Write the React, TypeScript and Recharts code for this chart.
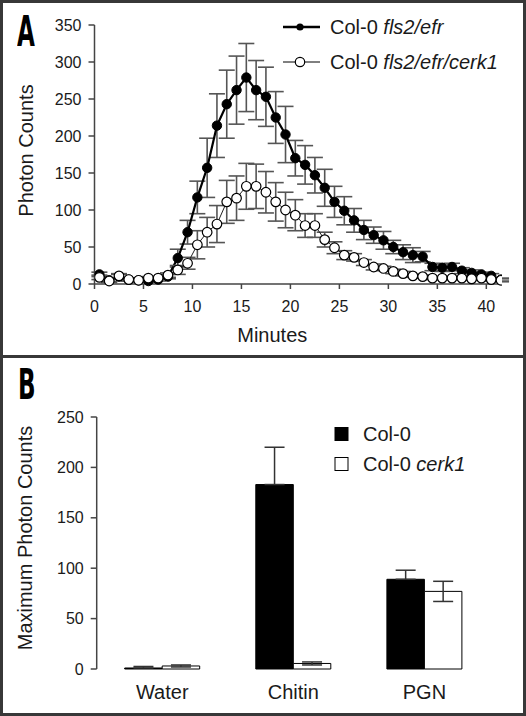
import React from "react";
import { LineChart, Line, XAxis, YAxis, ErrorBar, BarChart, Bar, Legend } from "recharts";

// Panel A: luminescence time course
const minutes = [
  0.5, 1.5, 2.5, 3.5, 4.5, 5.5, 6.5, 7.5, 8.5, 9.5, 10.5, 11.5, 12.5, 13.5,
  14.5, 15.5, 16.5, 17.5, 18.5, 19.5, 20.5, 21.5, 22.5, 23.5, 24.5, 25.5, 26.5,
  27.5, 28.5, 29.5, 30.5, 31.5, 32.5, 33.5, 34.5, 35.5, 36.5, 37.5, 38.5, 39.5,
  40.5, 41.5,
];
const fls2efr = [
  13, 5, 10, 6, 5, 4, 6, 10, 35, 70, 117, 157, 214, 243, 262, 279, 262, 253,
  225, 202, 170, 161, 147, 130, 111, 99, 86, 73, 66, 59, 50, 43, 39, 37, 23, 22,
  23, 18, 15, 13, 11, 6,
];
const fls2efrErr = [
  3, 2, 3, 2, 2, 2, 2, 3, 12, 16, 22, 40, 43, 46, 46, 46, 40, 40, 35, 38, 24,
  26, 24, 25, 21, 19, 16, 13, 11, 12, 9, 10, 10, 7, 5, 5, 5, 4, 4, 3, 3, 2,
];
const fls2efrCerk1 = [
  9, 4, 11, 6, 5, 8, 8, 12, 19, 28, 53, 70, 81, 111, 116, 132, 132, 124, 111,
  100, 93, 79, 79, 60, 49, 39, 36, 29, 23, 21, 17, 14, 11, 10, 8, 8, 8, 8, 7, 8,
  6, 5,
];
const fls2efrCerk1Err = [
  3, 2, 3, 2, 2, 2, 2, 3, 6, 8, 19, 20, 25, 29, 30, 31, 30, 28, 26, 24, 21, 16,
  16, 10, 8, 6, 5, 4, 4, 3, 3, 3, 2, 2, 2, 2, 2, 2, 2, 2, 2, 2,
];
const minuteTicks = [0, 5, 10, 15, 20, 25, 30, 35, 40];
const countTicks = [0, 50, 100, 150, 200, 250, 300, 350];

// Panel B: maximum photon counts per elicitor
const treatments = ["Water", "Chitin", "PGN"];
const col0Max = [1, 183, 89];
const col0MaxErr = [1.5, 37, 9];
const cerk1Max = [3, 5.5, 77];
const cerk1MaxErr = [1, 1.5, 10];
const maxTicks = [0, 50, 100, 150, 200, 250];

const curveRows = minutes.map((t, i) => ({
  t,
  efr: fls2efr[i],
  efrErr: fls2efrErr[i],
  cerk: fls2efrCerk1[i],
  cerkErr: fls2efrCerk1Err[i],
}));

// the black bars only show the upper half of their error bar
const barRows = treatments.map((name, i) => ({
  name,
  col0: col0Max[i],
  col0Err: [0, col0MaxErr[i]],
  cerk1: cerk1Max[i],
  cerk1Err: cerk1MaxErr[i],
}));

const FONT = '"Liberation Sans", Arial, Helvetica, sans-serif';
const AXIS = "#444";
const TXT = "#1a1a1a";
const ERR = "#555";

const tickStyle = { fontSize: 16, fill: TXT, fontFamily: FONT };
const titleStyle = { fontSize: 20, fill: TXT, fontFamily: FONT, textAnchor: "middle" as const };

function CurveLegend() {
  return (
    <svg width={256} height={80} style={{ display: "block" }}>
      <g fontFamily={FONT} fontSize={20} fill={TXT}>
        <line x1={13} x2={50} y1={22} y2={22} stroke="#000" strokeWidth={2.5} />
        <circle cx={30} cy={22} r={3.6} fill="#000" />
        <text x={60} y={29}>
          Col-0 <tspan fontStyle="italic">fls2/efr</tspan>
        </text>
        <line x1={13} x2={50} y1={57} y2={57} stroke="#000" strokeWidth={1} />
        <circle cx={30} cy={57} r={4.7} fill="#fff" stroke="#000" strokeWidth={1.2} />
        <text x={60} y={64}>
          Col-0 <tspan fontStyle="italic">fls2/efr/cerk1</tspan>
        </text>
      </g>
    </svg>
  );
}

function BarLegend() {
  return (
    <svg width={200} height={66} style={{ display: "block" }}>
      <g fontFamily={FONT} fontSize={20} fill={TXT}>
        <rect x={5} y={6.5} width={13} height={13} fill="#000" stroke="#000" />
        <text x={33} y={20}>Col-0</text>
        <rect x={5} y={36.5} width={13} height={13} fill="#fff" stroke="#000" />
        <text x={33} y={50}>
          Col-0 <tspan fontStyle="italic">cerk1</tspan>
        </text>
      </g>
    </svg>
  );
}

const panelLetter: React.CSSProperties = {
  position: "absolute",
  fontFamily: '"DejaVu Sans", sans-serif',
  fontWeight: "bold",
  fontSize: 42,
  lineHeight: "42px",
  color: "#000",
  transform: "scaleX(0.55)",
  transformOrigin: "left top",
};

export default function App() {
  return (
    <div
      style={{
        position: "absolute",
        left: 0,
        top: 0,
        width: 526,
        height: 716,
        background: "#fff",
        fontFamily: FONT,
      }}
    >
      <div style={{ position: "absolute", left: 0, top: 0 }}>
        <LineChart
          width={526}
          height={357}
          data={curveRows}
          margin={{ top: 25, right: 24, left: 0, bottom: 0 }}
        >
          <XAxis
            dataKey="t"
            type="number"
            domain={[0, 41.6]}
            ticks={minuteTicks}
            allowDataOverflow
            height={73}
            tickSize={5}
            tickMargin={12}
            tick={tickStyle}
            axisLine={{ stroke: AXIS, strokeWidth: 1.5 }}
            tickLine={{ stroke: AXIS, strokeWidth: 1.5 }}
            label={{ value: "Minutes", position: "insideBottom", offset: 15, dx: -26, style: titleStyle }}
          />
          <YAxis
            domain={[0, 350]}
            ticks={countTicks}
            width={94.5}
            tickSize={6}
            tickMargin={7}
            tick={tickStyle}
            axisLine={{ stroke: AXIS, strokeWidth: 1.5 }}
            tickLine={{ stroke: AXIS, strokeWidth: 1.5 }}
            label={{ value: "Photon Counts", angle: -90, position: "insideLeft", offset: 26, dy: -4, style: titleStyle }}
          />
          <Legend
            layout="vertical"
            align="center"
            verticalAlign="middle"
            wrapperStyle={{ left: 270, top: 5, width: 256 }}
            content={() => <CurveLegend />}
          />
          <Line
            dataKey="efr"
            type="linear"
            stroke="#000"
            strokeWidth={2.2}
            dot={{ r: 4.7, fill: "#000", stroke: "#000", strokeWidth: 1 }}
            activeDot={false}
            isAnimationActive={false}
          >
            <ErrorBar dataKey="efrErr" direction="y" width={8} stroke={ERR} strokeWidth={1.6} />
          </Line>
          <Line
            dataKey="cerk"
            type="linear"
            stroke="#222"
            strokeWidth={1}
            dot={{ r: 4.8, fill: "#fff", stroke: "#000", strokeWidth: 1.2 }}
            activeDot={false}
            isAnimationActive={false}
          >
            <ErrorBar dataKey="cerkErr" direction="y" width={8} stroke={ERR} strokeWidth={1.6} />
          </Line>
        </LineChart>
      </div>

      <div style={{ position: "absolute", left: 0, top: 357 }}>
        <BarChart
          width={526}
          height={359}
          data={barRows}
          margin={{ top: 60, right: 36, left: 0, bottom: 0 }}
          barGap={0}
          barSize={37.5}
        >
          <XAxis
            xAxisId="edges"
            type="number"
            domain={[0, 3]}
            ticks={[0, 1, 2, 3]}
            height={1}
            tick={false}
            tickSize={5}
            axisLine={{ stroke: AXIS, strokeWidth: 1.5 }}
            tickLine={{ stroke: AXIS, strokeWidth: 1.5 }}
          />
          <XAxis
            dataKey="name"
            height={46}
            tickLine={false}
            axisLine={false}
            tickSize={6}
            tickMargin={10}
            tick={{ ...tickStyle, fontSize: 20 }}
          />
          <YAxis
            domain={[0, 250]}
            ticks={maxTicks}
            width={96.7}
            tickSize={6}
            tickMargin={7}
            tick={tickStyle}
            axisLine={{ stroke: AXIS, strokeWidth: 1.5 }}
            tickLine={{ stroke: AXIS, strokeWidth: 1.5 }}
            label={{ value: "Maximum Photon Counts", angle: -90, position: "insideLeft", offset: 25, dy: -5, style: titleStyle }}
          />
          <Legend
            layout="vertical"
            align="center"
            verticalAlign="middle"
            wrapperStyle={{ left: 330, top: 64, width: 196 }}
            content={() => <BarLegend />}
          />
          <Bar dataKey="col0" fill="#000" stroke="#000" strokeWidth={1} isAnimationActive={false}>
            <ErrorBar dataKey="col0Err" width={10} stroke="#333" strokeWidth={1.5} />
          </Bar>
          <Bar dataKey="cerk1" fill="#fff" stroke="#000" strokeWidth={1} isAnimationActive={false}>
            <ErrorBar dataKey="cerk1Err" width={10} stroke="#333" strokeWidth={1.5} />
          </Bar>
        </BarChart>
      </div>

      <div style={{ ...panelLetter, left: 17, top: 11 }}>A</div>
      <div style={{ ...panelLetter, left: 18, top: 364 }}>B</div>

      {/* frame */}
      <div
        style={{
          position: "absolute",
          left: 0,
          top: 0,
          width: 526,
          height: 716,
          boxSizing: "border-box",
          border: "3px solid #383838",
          pointerEvents: "none",
        }}
      />
      <div
        style={{
          position: "absolute",
          left: 0,
          top: 355,
          width: 526,
          height: 2.5,
          background: "#383838",
        }}
      />
    </div>
  );
}
